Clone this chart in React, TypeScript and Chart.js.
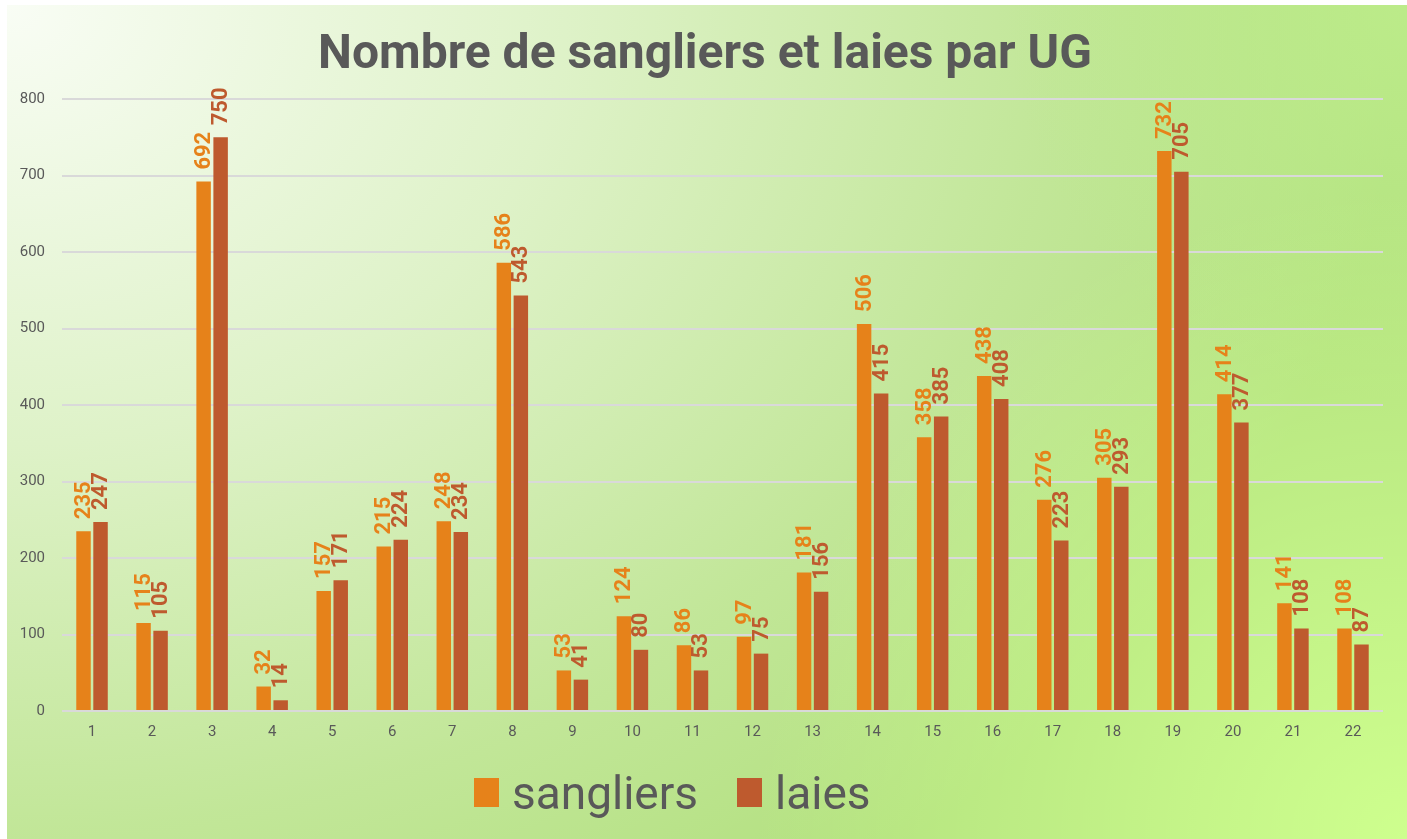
import React, { useEffect, useRef } from "react";
import { Chart, registerables } from "chart.js";

Chart.register(...registerables);

const categories = ["1", "2", "3", "4", "5", "6", "7", "8", "9", "10", "11", "12", "13", "14", "15", "16", "17", "18", "19", "20", "21", "22"];
const sangliers = [235, 115, 692, 32, 157, 215, 248, 586, 53, 124, 86, 97, 181, 506, 358, 438, 276, 305, 732, 414, 141, 108];
const laies = [247, 105, 750, 14, 171, 224, 234, 543, 41, 80, 53, 75, 156, 415, 385, 408, 223, 293, 705, 377, 108, 87];
const seriesNames = ["sangliers", "laies"];
const seriesColors = ["#E6821A", "#BE5A2E"];
const titleText = "Nombre de sangliers et laies par UG";
const yMin = 0;
const yMax = 800;
const yStep = 100;

const FONT = "Roboto, 'Open Sans', sans-serif";
const GRAY = "#595959";

const backgroundPlugin = {
  id: "bgGradient",
  beforeDraw(chart: any) {
    const { ctx, width: w, height: h } = chart;
    ctx.save();
    ctx.fillStyle = "#b2e07e";
    ctx.fillRect(0, 0, w, h);
    // light glow from top-left (elliptical)
    ctx.save();
    ctx.scale(1, 1100 / 1400);
    const g1 = ctx.createRadialGradient(0, 0, 0, 0, 0, 1400);
    g1.addColorStop(0, "rgba(249,253,245,1)");
    g1.addColorStop(0.4, "rgba(249,253,245,0.62)");
    g1.addColorStop(0.75, "rgba(249,253,245,0.22)");
    g1.addColorStop(1, "rgba(249,253,245,0)");
    ctx.fillStyle = g1;
    ctx.fillRect(0, 0, w, h * 1400 / 1100);
    ctx.restore();
    // slight lightening top-right
    const g3 = ctx.createRadialGradient(w, 0, 0, w, 0, 400);
    g3.addColorStop(0, "rgba(190,238,140,0.8)");
    g3.addColorStop(1, "rgba(190,238,140,0)");
    ctx.fillStyle = g3;
    ctx.fillRect(0, 0, w, h);
    // yellow-green glow bottom-right
    const g2 = ctx.createRadialGradient(w, h, 0, w, h, 650);
    g2.addColorStop(0, "rgba(206,255,142,1)");
    g2.addColorStop(1, "rgba(206,255,142,0)");
    ctx.fillStyle = g2;
    ctx.fillRect(0, 0, w, h);
    ctx.restore();
  },
};

const labelsPlugin = {
  id: "barLabels",
  afterDatasetsDraw(chart: any) {
    const { ctx } = chart;
    chart.data.datasets.forEach((ds: any, i: number) => {
      const meta = chart.getDatasetMeta(i);
      meta.data.forEach((bar: any, j: number) => {
        ctx.save();
        ctx.translate(bar.x, bar.y - 12);
        ctx.rotate(-Math.PI / 2);
        ctx.textAlign = "left";
        ctx.textBaseline = "middle";
        ctx.fillStyle = seriesColors[i];
        ctx.font = `bold 22px ${FONT}`;
        ctx.fillText(String(ds.data[j]), 0, 1);
        ctx.restore();
      });
    });
  },
};

const titleLegendPlugin = {
  id: "titleLegend",
  afterDraw(chart: any) {
    const { ctx, width: w } = chart;
    ctx.save();
    ctx.fillStyle = GRAY;
    ctx.font = `bold 48px ${FONT}`;
    ctx.textAlign = "center";
    ctx.textBaseline = "alphabetic";
    ctx.fillText(titleText, w / 2 - 2, 63);

    const boxXs = [467, 730];
    ctx.font = `46px ${FONT}`;
    ctx.textAlign = "left";
    seriesNames.forEach((name, i) => {
      ctx.fillStyle = seriesColors[i];
      ctx.fillRect(boxXs[i], 773, 25, 29);
      ctx.fillStyle = GRAY;
      ctx.fillText(name, boxXs[i] + 38, 804);
    });
    ctx.restore();
  },
};

export default function App() {
  const ref = useRef<HTMLCanvasElement>(null);
  useEffect(() => {
    if (!ref.current) return;
    const chart = new Chart(ref.current, {
      type: "bar",
      data: {
        labels: categories,
        datasets: [
          { label: seriesNames[0], data: sangliers, backgroundColor: seriesColors[0], categoryPercentage: 0.567, barPercentage: 0.85 },
          { label: seriesNames[1], data: laies, backgroundColor: seriesColors[1], categoryPercentage: 0.567, barPercentage: 0.85 },
        ],
      },
      options: {
        responsive: false,
        animation: false,
        layout: { padding: { top: 94, left: 10, right: 24, bottom: 88 } },
        plugins: {
          legend: { display: false },
          title: { display: false },
          tooltip: { enabled: false },
        },
        scales: {
          x: {
            grid: { display: false, drawTicks: false },
            border: { display: false },
            ticks: { color: GRAY, font: { family: FONT, size: 15 }, padding: 12 },
            afterFit(s: any) { s.height = 40; },
          },
          y: {
            min: yMin,
            max: yMax,
            ticks: { stepSize: yStep, color: GRAY, font: { family: FONT, size: 15 }, padding: 17 },
            grid: { color: "#d9d9d9", lineWidth: 2, drawTicks: false },
            border: { display: false },
            afterFit(s: any) { s.width = 45; },
          },
        },
      } as any,
      plugins: [backgroundPlugin, labelsPlugin, titleLegendPlugin],
    });
    return () => chart.destroy();
  }, []);
  return (
    <div style={{ position: "fixed", left: 7, top: 5, width: 1400, height: 834 }}>
      <canvas ref={ref} width={1400} height={834} style={{ display: "block" }} />
    </div>
  );
}
